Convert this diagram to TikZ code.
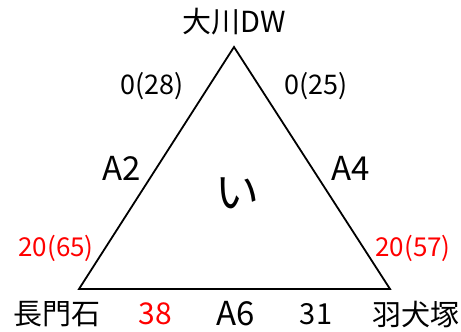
\documentclass[tikz,border=0pt]{standalone}
\usepackage{fontspec}
\setmainfont{Noto Sans CJK JP}
\usepackage{xcolor}
\usetikzlibrary{positioning, calc}
\definecolor{labelred}{RGB}{255, 0, 0}

\begin{document}
\begin{tikzpicture}[
				x=1pt, y=-1pt,
				edge/.style={draw=black, line width=1.8pt, line join=miter},
				station/.style={font=\fontsize{29}{29}\selectfont, inner sep=0pt},
				count/.style={font=\fontsize{27}{27}\selectfont, inner sep=0pt},
				redcount/.style={count, text=labelred, font=\fontsize{26}{26}\selectfont},
				route/.style={font=\fontsize{33}{33}\selectfont, inner sep=0pt}
			]
			\useasboundingbox (0,0) rectangle (461,332);

			% Vertices
			\coordinate (top) at (234,47);
			\coordinate (left) at (79,289);
			\coordinate (right) at (390,289);

			% Triangle
			\draw[edge] (top) -- (left) -- (right) -- cycle;

			% Stations
			\node[station] (ookawa) at (234,22) {大川DW};
			\node[station] (nagato) at (57,314) {長門石};
			\node[station] (hainu) at (416,314) {羽犬塚};

			% Routes
			\node[route] (a2) at (122,168) {A2};
			\node[route] (a4) at (351,168) {A4};
			\node[route] (a6) at (236,314) {A6};
			\node[font=\fontsize{44}{44}\selectfont, inner sep=0pt] (area) at (237,193) {い};

			% Counts
			\node[count] (c28) at (152,86) {0(28)};
			\node[count] (c25) at (316,86) {0(25)};
			\node[redcount] (c65) at (56,248) {20(65)};
			\node[redcount] (c57) at (413,248) {20(57)};
			\node[redcount, font=\fontsize{30}{30}\selectfont] (c38) at (155,314) {38};
			\node[count, font=\fontsize{29}{29}\selectfont] (c31) at (316,314) {31};

		\end{tikzpicture}
\end{document}
